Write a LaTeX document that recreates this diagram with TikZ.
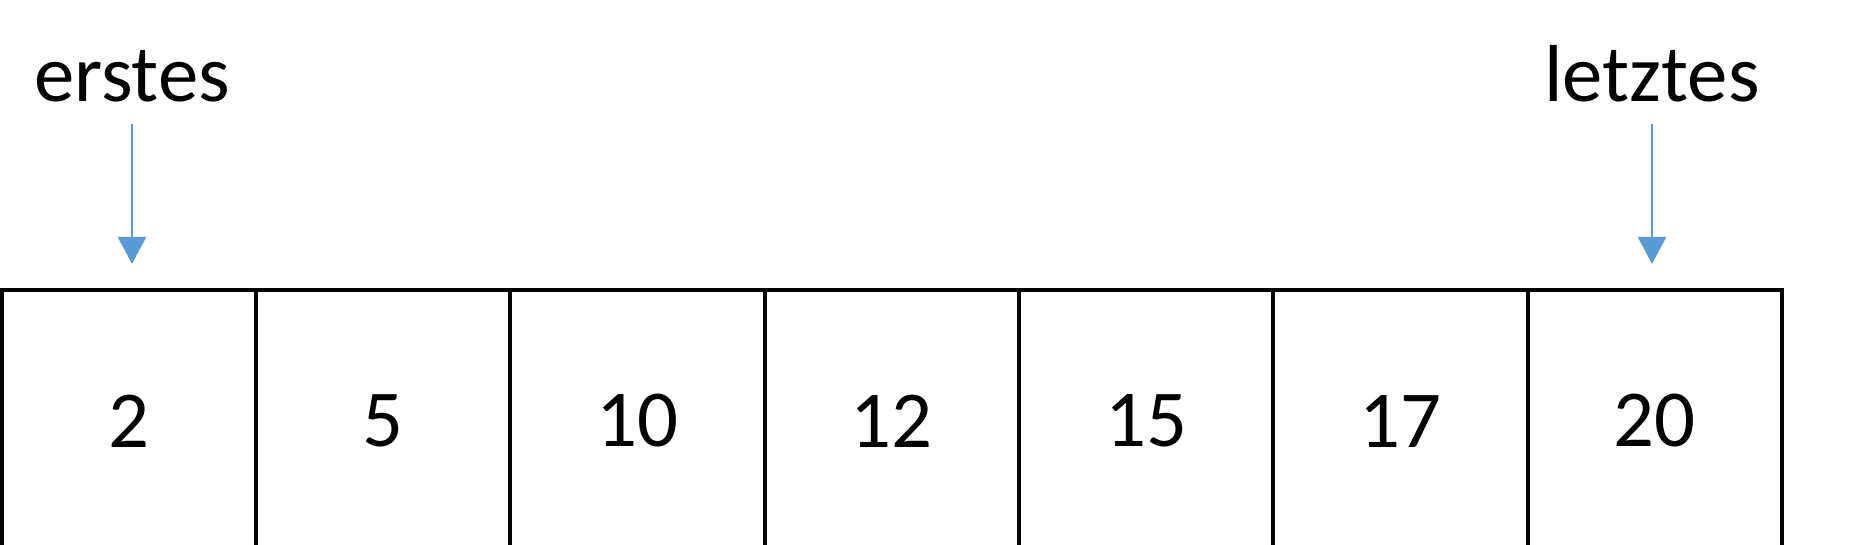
\documentclass[tikz,border=0pt]{standalone}
\usepackage{fontspec}
\setmainfont{Carlito}
\usetikzlibrary{arrows.meta}

\definecolor{pfeilblau}{RGB}{91,155,213}

\tikzset{
    feld/.style={draw, line width=2.3pt, minimum width=5.086cm, minimum height=5.24cm, inner sep=0pt, font=\fontsize{46}{50}\selectfont},
    zeiger/.style={anchor=base, inner sep=0pt, font=\fontsize{46}{50}\selectfont},
    pfeil/.style={draw=pfeilblau, line width=1.4pt, -{Triangle[width=0.56cm, length=0.54cm]}, pfeilblau}
}

\begin{document}
\begin{tikzpicture}

        \def\xstep{5.086}  % width of one cell
        \useasboundingbox (0,0) rectangle (37.52,-10.88);
        \clip (0,0) rectangle (37.52,-10.88);

        % The array cells
        \node[feld] (c1) at (2.58,-8.42) {2};
        \node[feld] (c2) at (2.58+1*\xstep,-8.42) {5};
        \node[feld] (c3) at (2.58+2*\xstep,-8.42) {10};
        \node[feld] (c4) at (2.58+3*\xstep,-8.42) {12};
        \node[feld] (c5) at (2.58+4*\xstep,-8.42) {15};
        \node[feld] (c6) at (2.58+5*\xstep,-8.42) {17};
        \node[feld] (c7) at (2.58+6*\xstep,-8.42) {20};

        % Labels for the first and the last element
        \node[zeiger] (erstes) at (2.64,-2.02) {erstes};
        \node[zeiger] (letztes) at (33.04,-2.02) {letztes};

        % Arrows down to the cells
        \draw[pfeil, shorten <=0.44cm, shorten >=0.48cm] (erstes.south) -- (erstes.south |- c1.north);
        \draw[pfeil, shorten <=0.44cm, shorten >=0.48cm] (letztes.south) -- (letztes.south |- c7.north);

\end{tikzpicture}
\end{document}
